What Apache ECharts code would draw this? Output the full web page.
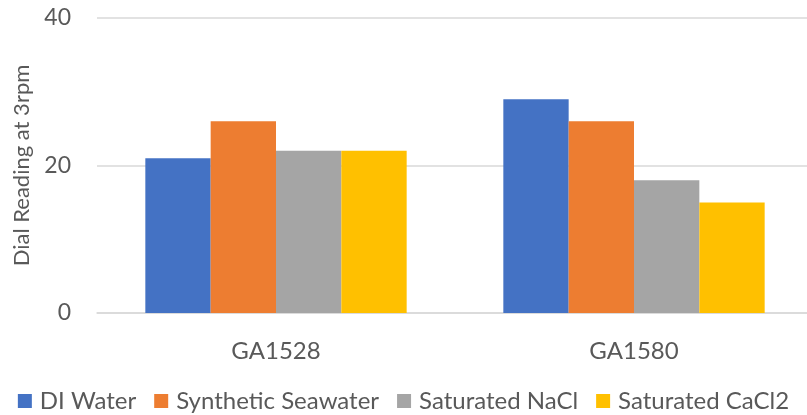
<!DOCTYPE html>
<html>
<head>
<meta charset="utf-8">
<script src="https://cdn.jsdelivr.net/npm/echarts@6/dist/echarts.min.js"></script>
<style>
  html, body { margin: 0; padding: 0; background: #fff; }
  #chart { width: 807px; height: 415px; }
</style>
</head>
<body>
<div id="chart"></div>
<script>
// data
const categories = ['GA1528', 'GA1580'];
const diWater = [21, 29];
const syntheticSeawater = [26, 26];
const saturatedNaCl = [22, 18];
const saturatedCaCl2 = [22, 15];
const yTicks = [0, 20, 40];

const font = 'Lato, "Open Sans", sans-serif';
const textColor = '#595959';

const makeBar = (name, data, color) => ({
  name: name,
  type: 'bar',
  data: data,
  barGap: '0%',
  barCategoryGap: '27%',
  itemStyle: { color: color },
});

const option = {
  animation: false,
  textStyle: { fontFamily: font },
  grid: { left: 97, width: 716, top: 18, bottom: 102, outerBoundsMode: 'none', containLabel: false },
  legend: {
    top: 384,
    left: 'center',
    itemWidth: 14,
    itemHeight: 14,
    itemGap: 18,
    icon: 'rect',
    textStyle: { fontSize: 24, color: textColor, fontFamily: font, padding: [0, 0, 0, 3] },
  },
  xAxis: {
    type: 'category',
    data: categories,
    axisLine: { lineStyle: { color: '#d9d9d9', width: 1.5 } },
    axisTick: { show: false },
    axisLabel: { fontSize: 24, color: textColor, margin: 26 },
  },
  yAxis: {
    type: 'value',
    min: yTicks[0],
    max: yTicks[yTicks.length - 1],
    interval: 20,
    name: 'Dial Reading at 3rpm',
    nameLocation: 'middle',
    nameGap: 64,
    nameTextStyle: { fontSize: 22, color: textColor },
    axisLine: { show: false },
    axisTick: { show: false },
    axisLabel: { fontSize: 23, color: textColor, margin: 26 },
    splitLine: { lineStyle: { color: '#d9d9d9', width: 1.5 } },
  },
  series: [
    makeBar('DI Water', diWater, '#4472c4'),
    makeBar('Synthetic Seawater', syntheticSeawater, '#ed7d31'),
    makeBar('Saturated NaCl', saturatedNaCl, '#a5a5a5'),
    makeBar('Saturated CaCl2', saturatedCaCl2, '#ffc000'),
  ],
};

const mychart = echarts.init(document.getElementById('chart'));
mychart.setOption(option);
</script>
</body>
</html>
